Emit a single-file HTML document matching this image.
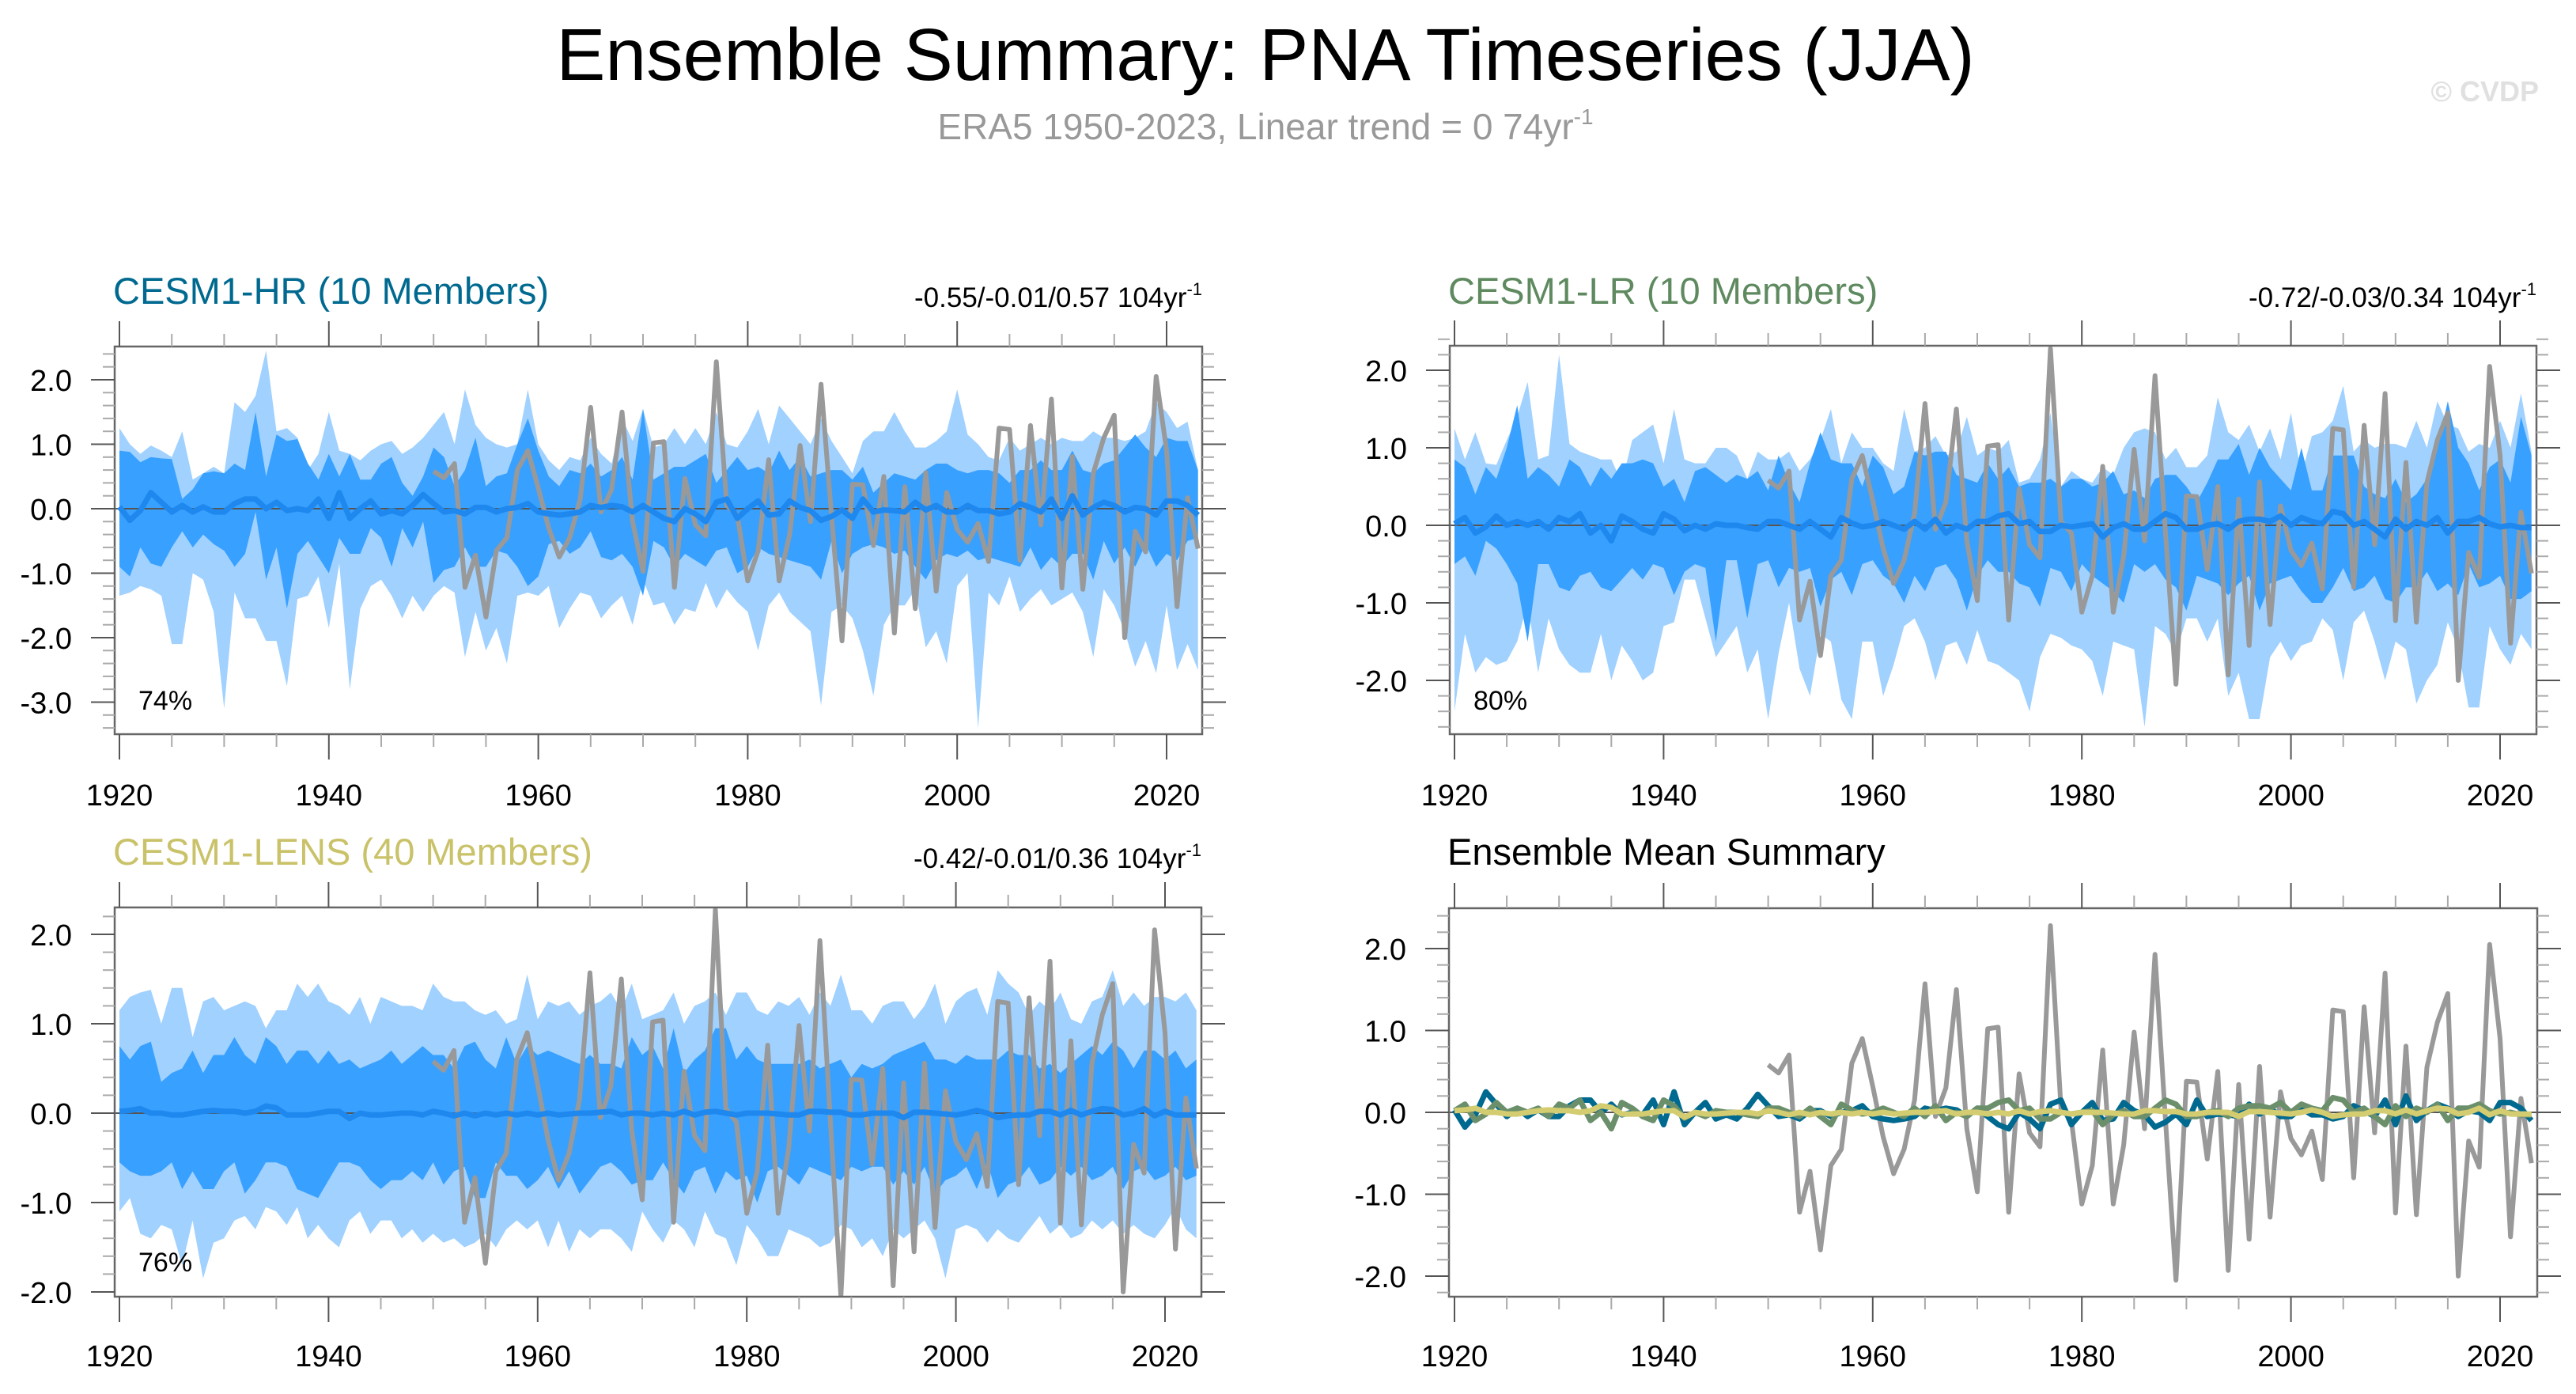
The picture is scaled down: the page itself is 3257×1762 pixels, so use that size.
<!DOCTYPE html>
<html><head><meta charset="utf-8"><style>
html,body{margin:0;padding:0;background:#fff;}
svg{display:block;font-family:"Liberation Sans",Arial,sans-serif;}
</style></head><body>
<svg id="chart" width="3257" height="1762" viewBox="0 0 3257 1762" xmlns="http://www.w3.org/2000/svg">
<rect x="0" y="0" width="3257" height="1762" fill="#fff"/>
<text x="1600" y="101" font-size="93" text-anchor="middle" fill="#000">Ensemble Summary: PNA Timeseries (JJA)</text>
<text x="1600" y="176" font-size="46" text-anchor="middle" fill="#999">ERA5 1950-2023, Linear trend = 0 74yr<tspan font-size="28" dy="-19">-1</tspan></text>
<text x="3210" y="128" font-size="36" font-weight="bold" text-anchor="end" fill="#e0e0e0">© CVDP</text>
</svg>
<script>
const obsYears0 = 1950;
const ERA5 = [0.58,0.48,0.70,-1.22,-0.72,-1.68,-0.65,-0.45,0.60,0.90,
0.32,-0.30,-0.75,-0.45,0.15,1.57,-0.05,0.30,1.50,-0.20,
-0.97,1.02,1.04,-1.22,0.47,-0.25,-0.42,2.28,0.05,-0.10,
-1.12,-0.65,0.76,-1.12,-0.40,0.98,-0.20,1.93,-0.10,-2.05,
0.38,0.37,-0.57,0.50,-1.93,0.34,-1.55,0.56,-1.28,0.25,
-0.32,-0.52,-0.23,-0.82,1.25,1.23,-0.80,1.29,-0.25,1.70,
-1.23,0.81,-1.25,0.55,1.10,1.45,-2.00,-0.35,-0.67,2.05,
0.90,-1.52,0.17,-0.62];
const modelYear0 = 1920;
const HR_hi = [1.25,1.0,0.85,0.98,0.9,0.8,1.2,0.45,0.55,0.65,
0.55,1.65,1.5,1.75,2.45,1.2,1.25,1.1,0.6,0.85,
1.5,0.9,0.85,0.75,0.9,1.0,1.05,0.85,0.95,1.1,
1.3,1.5,1.0,1.85,1.3,1.1,1.0,0.95,1.0,1.85,
1.0,0.75,0.6,0.8,0.75,1.1,0.85,0.7,1.4,1.05,
1.55,0.95,1.0,1.25,1.0,1.25,1.0,1.5,1.0,0.95,
1.2,1.55,1.0,1.6,1.4,1.2,1.0,1.4,1.05,0.8,
0.55,1.05,1.2,1.2,1.5,1.2,0.95,0.95,1.05,1.2,
1.85,1.15,1.0,0.8,0.75,1.1,0.9,1.0,1.1,1.0,
1.1,1.05,1.05,1.2,1.1,1.1,1.05,1.1,1.2,1.65,
1.5,1.25,1.35,0.6];
const HR_ihi = [0.9,0.88,0.72,0.8,0.78,0.77,0.15,0.3,0.55,0.58,
0.55,0.7,0.6,1.5,0.5,1.15,1.05,1.08,0.7,0.45,
0.85,0.5,0.85,0.45,0.45,0.7,0.8,0.4,0.2,0.5,
0.95,0.8,0.35,0.6,1.1,0.35,0.5,0.55,1.0,1.4,
0.9,0.5,0.35,0.6,0.55,0.7,0.5,0.6,0.8,0.45,
1.55,0.45,0.55,0.65,0.65,0.75,0.85,0.4,0.6,0.8,
0.6,0.65,0.55,0.9,0.6,0.8,0.5,0.55,0.6,0.6,
0.45,0.65,0.25,0.4,0.55,0.5,0.45,0.6,0.7,0.7,
0.6,0.55,0.6,0.6,0.55,0.4,0.6,0.6,0.75,0.6,
0.6,0.9,0.6,0.55,0.7,0.75,0.95,1.15,0.95,0.8,
1.1,1.05,1.05,0.6];
const HR_ilo = [-0.9,-1.05,-0.6,-0.85,-0.9,-0.6,-0.35,-0.6,-0.4,-0.55,
-0.65,-0.9,-0.7,-0.05,-1.1,-0.6,-1.55,-0.7,-0.5,-0.75,
-1.0,-0.45,-0.7,-0.7,-0.3,-0.45,-0.9,-0.3,-0.6,-0.2,
-1.15,-0.95,-0.9,-0.6,-0.9,-0.9,-0.65,-0.7,-0.9,-1.2,
-1.05,-0.55,-0.5,-0.7,-0.6,-0.35,-0.75,-0.8,-0.7,-0.9,
-1.35,-0.5,-0.6,-0.9,-0.7,-0.8,-0.9,-0.65,-0.6,-1.0,
-0.9,-0.6,-0.7,-0.75,-0.8,-0.85,-0.9,-1.1,-0.5,-1.0,
-0.7,-0.6,-0.55,-0.6,-0.7,-0.65,-0.9,-1.1,-0.8,-0.7,
-0.75,-0.65,-0.8,-0.75,-0.8,-0.85,-0.9,-0.6,-0.95,-0.75,
-0.9,-0.7,-0.7,-1.1,-0.5,-0.85,-0.6,-0.9,-0.55,-0.9,
-0.7,-0.8,-0.5,-0.45];
const HR_lo = [-1.35,-1.3,-1.2,-1.25,-1.35,-2.1,-2.1,-1.0,-1.1,-1.6,
-3.1,-1.3,-1.7,-1.7,-2.05,-2.05,-2.75,-1.4,-1.35,-1.05,
-1.85,-0.85,-2.8,-1.55,-1.2,-1.1,-1.35,-1.7,-1.35,-1.6,
-1.35,-1.2,-1.3,-2.3,-1.6,-2.2,-1.85,-2.4,-1.35,-1.3,
-1.35,-1.2,-1.85,-1.55,-1.3,-1.35,-1.7,-1.5,-1.35,-1.8,
-1.1,-1.5,-1.45,-1.8,-1.55,-1.6,-1.15,-1.55,-1.25,-1.45,
-1.6,-2.2,-1.5,-1.3,-1.6,-1.75,-1.9,-3.05,-1.6,-1.5,
-1.7,-2.2,-2.9,-1.8,-1.5,-1.5,-1.25,-2.15,-1.9,-2.4,
-1.2,-1.0,-3.4,-1.3,-1.5,-1.05,-1.6,-1.4,-1.25,-1.5,
-1.4,-1.3,-1.6,-2.3,-1.25,-1.5,-1.9,-2.45,-2.05,-2.55,
-1.5,-2.5,-2.1,-2.5];
const HR_mean = [0.03,-0.18,-0.03,0.25,0.1,-0.05,0.05,-0.05,0.03,-0.05,
-0.05,0.08,0.15,0.15,0.0,0.1,-0.03,0.0,-0.03,0.15,
-0.15,0.25,-0.15,0.0,0.12,-0.08,-0.03,-0.08,0.05,0.22,
0.08,-0.05,-0.03,-0.08,0.02,0.02,-0.05,0.0,0.02,0.08,
-0.05,-0.08,-0.1,-0.08,-0.05,0.05,0.02,0.05,0.03,-0.05,
0.05,-0.05,-0.15,-0.2,0.0,-0.08,-0.2,0.1,0.15,-0.15,
0.0,0.12,-0.1,-0.08,0.12,0.02,-0.03,-0.18,-0.12,-0.02,
-0.15,0.15,-0.05,-0.02,-0.03,-0.05,0.1,-0.02,0.05,-0.05,
-0.05,0.05,-0.03,-0.03,-0.08,-0.05,0.08,0.02,-0.05,0.15,
-0.15,0.2,-0.1,0.02,0.1,0.05,-0.05,0.02,0.0,-0.1,
0.12,0.12,0.05,-0.1];
const LR_hi = [1.25,0.85,1.2,0.8,0.78,1.1,1.4,1.85,0.85,0.9,
2.2,1.05,0.95,0.9,0.85,0.85,0.55,1.1,1.2,1.3,
0.8,1.5,0.85,0.8,0.8,1.0,1.0,0.9,0.6,0.95,
0.85,0.85,0.95,0.7,0.85,1.1,1.5,0.8,1.2,1.0,
1.0,0.8,0.7,1.5,0.95,1.0,1.15,0.9,0.95,1.4,
0.9,1.0,0.95,1.1,0.55,0.6,0.85,1.45,0.5,0.7,
0.6,0.55,0.75,0.65,1.0,1.2,1.25,1.2,0.85,1.0,
0.75,0.75,0.9,1.65,1.2,1.1,1.3,0.95,1.25,0.85,
1.45,0.65,1.15,1.2,1.35,1.8,0.95,1.1,1.0,1.05,
1.05,1.0,1.35,1.0,1.6,1.3,1.25,0.95,1.05,1.0,
1.35,1.0,1.7,0.95];
const LR_ihi = [0.85,0.75,0.4,0.75,0.6,1.0,1.55,0.6,0.75,0.65,
0.5,0.85,0.75,0.5,0.75,0.6,0.8,0.8,0.85,0.8,
0.5,0.6,0.3,0.7,0.75,0.65,0.55,0.65,0.6,0.7,
0.45,0.9,0.55,0.3,0.8,1.2,0.85,0.8,0.8,0.5,
0.9,0.75,0.4,0.5,0.95,0.9,0.95,0.95,0.65,0.6,
0.55,0.8,0.6,0.75,0.5,0.55,0.55,0.6,0.5,0.6,
0.6,0.5,0.55,0.7,0.4,0.45,0.35,0.6,0.65,0.65,
0.5,0.3,0.55,0.85,0.85,1.05,0.65,1.0,0.75,0.6,
0.45,1.0,0.45,0.45,0.9,0.9,0.9,0.5,0.4,0.35,
0.6,0.3,0.4,0.6,1.0,1.6,1.0,0.8,0.45,0.75,
0.85,0.55,1.4,0.9];
const LR_ilo = [-0.5,-0.4,-0.65,-0.2,-0.3,-0.5,-0.75,-1.5,-0.5,-0.5,
-0.8,-0.85,-0.65,-0.6,-0.8,-0.85,-0.7,-0.55,-0.7,-0.5,
-0.55,-0.9,-0.6,-0.5,-0.55,-1.5,-0.45,-0.45,-1.2,-0.5,
-0.45,-0.8,-0.55,-0.6,-0.55,-1.05,-0.7,-0.6,-0.9,-0.5,
-0.45,-0.65,-0.75,-1.0,-0.65,-0.85,-0.55,-0.5,-0.7,-1.1,
-0.65,-0.45,-0.6,-0.6,-0.75,-0.8,-1.05,-0.55,-0.6,-0.85,
-0.5,-0.65,-0.75,-0.85,-1.0,-0.5,-0.6,-0.5,-0.7,-0.8,
-1.1,-0.65,-0.7,-0.75,-0.9,-0.75,-0.65,-1.1,-0.75,-0.7,
-0.65,-0.85,-1.0,-1.0,-0.8,-0.55,-0.85,-0.8,-0.65,-0.95,
-1.0,-0.8,-0.8,-0.6,-0.85,-0.75,-0.9,-0.5,-0.8,-0.75,
-0.65,-0.95,-0.95,-0.85];
const LR_lo = [-2.4,-1.4,-1.9,-1.7,-1.8,-1.75,-1.5,-1.0,-1.9,-1.2,
-1.6,-1.8,-1.9,-1.9,-1.4,-2.0,-1.55,-1.75,-2.0,-1.9,
-1.3,-1.25,-0.7,-0.7,-1.2,-1.7,-1.5,-1.3,-1.9,-1.6,
-2.5,-1.65,-1.0,-1.85,-2.2,-1.4,-1.5,-2.25,-2.5,-1.5,
-1.5,-2.2,-1.8,-1.3,-1.2,-1.5,-2.0,-1.55,-1.5,-1.8,
-1.35,-1.75,-1.8,-1.9,-2.0,-2.4,-1.7,-1.4,-1.45,-1.55,
-1.6,-1.75,-2.2,-1.5,-1.55,-1.6,-2.6,-1.3,-1.4,-1.65,
-1.2,-1.2,-1.5,-1.2,-2.2,-1.9,-2.5,-2.5,-1.7,-1.5,
-1.75,-1.55,-1.5,-1.2,-1.35,-2.0,-1.25,-1.1,-1.5,-2.0,
-1.5,-1.6,-2.3,-2.0,-1.8,-1.25,-1.6,-2.35,-2.35,-1.3,
-1.6,-1.8,-1.4,-1.6];
const LR_mean = [0.02,0.1,-0.1,-0.02,0.12,0.0,0.05,0.0,0.05,-0.05,
0.1,0.05,0.15,-0.1,0.0,-0.2,0.12,0.05,-0.05,-0.1,
0.15,0.08,-0.07,0.0,-0.05,0.02,0.0,0.0,-0.03,-0.05,
0.05,0.05,0.0,-0.05,0.05,-0.05,-0.15,0.1,0.03,-0.02,
0.0,0.05,0.0,-0.05,0.05,-0.05,0.08,-0.1,0.0,-0.05,
0.05,0.05,0.12,0.15,0.02,0.05,-0.08,-0.08,0.0,-0.02,
0.0,0.02,-0.15,-0.03,0.02,-0.05,-0.05,0.05,0.15,0.1,
-0.05,-0.05,0.0,0.02,-0.05,0.05,0.08,0.08,0.05,0.12,
0.0,0.1,0.05,0.02,0.18,0.15,0.0,0.05,-0.05,-0.15,
0.08,-0.05,0.05,0.0,0.1,-0.1,0.05,0.05,0.1,0.02,
-0.02,0.0,-0.03,-0.03];
const LENS_hi = [1.15,1.3,1.35,1.38,1.0,1.4,1.4,0.85,1.25,1.3,
1.15,1.2,1.25,1.2,0.95,1.15,1.15,1.45,1.3,1.45,
1.25,1.2,1.1,1.3,1.0,1.3,1.25,1.2,1.2,1.15,
1.45,1.3,1.25,1.25,1.15,1.1,1.15,1.0,1.05,1.55,
1.05,1.25,1.2,1.25,1.1,1.2,1.25,1.35,1.15,1.45,
1.05,1.1,1.15,1.35,1.0,1.2,1.25,1.35,1.1,1.35,
1.35,1.15,1.1,1.25,1.2,1.3,1.1,1.35,1.2,1.55,
1.15,1.15,1.0,1.2,1.25,1.25,1.05,1.2,1.45,1.0,
1.25,1.35,1.4,1.1,1.6,1.45,1.35,1.1,1.25,1.15,
1.35,1.05,1.0,1.25,1.3,1.6,1.2,1.35,1.2,1.3,
1.3,1.25,1.35,1.15];
const LENS_ihi = [0.75,0.6,0.75,0.8,0.35,0.45,0.5,0.7,0.45,0.65,
0.65,0.85,0.65,0.55,0.85,0.75,0.55,0.7,0.7,0.55,
0.7,0.55,0.6,0.5,0.55,0.6,0.7,0.55,0.65,0.75,
0.65,0.65,0.5,0.75,0.8,0.6,0.5,0.85,0.55,0.75,
0.65,0.7,0.65,0.6,0.55,0.65,0.55,0.55,0.5,0.85,
0.65,0.75,0.5,0.95,0.45,0.6,0.7,0.95,0.95,0.6,
0.75,0.6,0.55,0.55,0.55,0.55,0.6,0.5,0.55,0.6,
0.4,0.55,0.5,0.55,0.65,0.7,0.75,0.8,0.6,0.6,
0.55,0.65,0.6,0.6,0.6,0.7,0.65,0.65,0.5,0.55,
0.45,0.55,0.65,0.75,0.65,0.8,0.7,0.5,0.7,0.7,
0.6,0.7,0.5,0.6];
const LENS_ilo = [-0.55,-0.65,-0.7,-0.7,-0.65,-0.55,-0.85,-0.65,-0.85,-0.85,
-0.65,-0.55,-0.9,-0.75,-0.55,-0.55,-0.6,-0.85,-0.9,-0.95,
-0.75,-0.55,-0.55,-0.6,-0.75,-0.85,-0.75,-0.75,-0.65,-0.75,
-0.55,-0.8,-0.65,-0.6,-0.95,-0.95,-0.55,-0.7,-0.7,-0.85,
-0.75,-0.6,-0.85,-0.65,-0.9,-0.75,-0.6,-0.55,-0.65,-0.8,
-0.75,-0.75,-0.55,-0.75,-0.9,-0.65,-0.6,-0.9,-0.65,-0.75,
-0.7,-1.0,-0.65,-0.6,-0.7,-0.8,-0.6,-0.65,-0.7,-0.75,
-0.6,-0.65,-0.6,-0.6,-0.8,-0.65,-0.8,-0.6,-0.9,-0.75,
-0.7,-0.6,-0.85,-0.55,-0.95,-0.8,-0.75,-0.6,-0.8,-0.75,
-0.6,-0.7,-0.6,-0.75,-0.7,-0.6,-0.85,-0.65,-0.6,-0.75,
-0.7,-0.6,-0.75,-0.7];
const LENS_lo = [-1.1,-0.95,-1.35,-1.4,-1.25,-1.3,-1.7,-1.2,-1.85,-1.45,
-1.4,-1.2,-1.15,-1.3,-1.05,-1.1,-1.25,-1.05,-1.4,-1.25,
-1.4,-1.5,-1.2,-1.1,-1.35,-1.2,-1.2,-1.4,-1.3,-1.45,
-1.35,-1.45,-1.4,-1.5,-1.45,-1.35,-1.5,-1.3,-1.2,-1.3,
-1.2,-1.5,-1.2,-1.55,-1.3,-1.4,-1.3,-1.3,-1.4,-1.55,
-1.1,-1.3,-1.45,-1.2,-1.3,-1.5,-1.1,-1.35,-1.4,-1.7,
-1.25,-1.4,-1.6,-1.6,-1.3,-1.35,-1.4,-1.5,-1.45,-1.25,
-1.3,-1.5,-1.4,-1.6,-1.3,-1.4,-1.3,-1.2,-1.4,-1.85,
-1.3,-1.25,-1.3,-1.45,-1.3,-1.4,-1.45,-1.3,-1.15,-1.35,
-1.25,-1.4,-1.35,-1.2,-1.3,-1.2,-1.35,-1.25,-1.35,-1.4,
-1.25,-1.05,-1.3,-1.4];
const LENS_mean = [0.02,0.03,0.05,0.0,0.0,-0.02,-0.02,0.0,0.02,0.03,
0.02,0.02,0.0,0.02,0.08,0.06,-0.02,-0.02,-0.02,0.0,
0.02,0.02,-0.06,0.0,-0.02,-0.02,-0.01,0.0,0.0,-0.02,
0.02,0.0,-0.03,0.0,-0.03,0.0,-0.02,0.0,-0.02,0.0,
-0.02,0.0,-0.02,-0.01,0.0,0.0,0.01,0.02,-0.02,0.0,
0.0,-0.02,0.0,-0.02,0.02,-0.02,0.01,0.02,0.0,-0.02,
0.0,0.0,0.0,-0.01,-0.02,-0.02,0.02,0.02,0.01,0.01,
-0.02,-0.02,0.0,0.0,0.0,-0.05,0.01,0.01,0.0,-0.01,
-0.02,0.0,0.03,0.0,-0.05,-0.03,-0.02,-0.02,0.02,0.02,
-0.02,0.03,-0.02,0.02,0.05,0.04,-0.02,0.0,0.05,-0.03,
0.02,-0.02,-0.02,-0.02];
const xTickYears = [1920,1940,1960,1980,2000,2020];

const NS = "http://www.w3.org/2000/svg";
const svg = document.getElementById('chart');
function mk(tag, attrs, parent) {
  const e = document.createElementNS(NS, tag);
  for (const k in attrs) e.setAttribute(k, attrs[k]);
  (parent || svg).appendChild(e);
  return e;
}
function fmt(v){ return v.toFixed(1); }

function panel(cfg) {
  const g = mk('g', {});
  
  
  const xs = yr => cfg.ax + (yr - 1920) * cfg.xs;
  const ys = v => cfg.y0 - v * cfg.yu;
  const clip = mk('clipPath', {id: 'clip-' + cfg.name}, g);
  mk('rect', {x: cfg.x0, y: cfg.yt, width: cfg.x1 - cfg.x0, height: cfg.yb - cfg.yt}, clip);
  const pg = mk('g', {'clip-path': 'url(#clip-' + cfg.name + ')'}, g);
  function band(hi, lo, color, nm) {
    let d = '';
    for (let i = 0; i < hi.length; i++) d += (i ? 'L' : 'M') + xs(modelYear0 + i).toFixed(1) + ',' + ys(hi[i]).toFixed(1);
    for (let i = lo.length - 1; i >= 0; i--) d += 'L' + xs(modelYear0 + i).toFixed(1) + ',' + ys(lo[i]).toFixed(1);
    const p = mk('path', {d: d + 'Z', fill: color}, pg);
    
    
  }
  function line(arr, y0, color, w, nm) {
    let d = '';
    for (let i = 0; i < arr.length; i++) d += (i ? 'L' : 'M') + xs(y0 + i).toFixed(1) + ',' + ys(arr[i]).toFixed(1);
    const p = mk('path', {d: d, fill: 'none', stroke: color, 'stroke-width': w, 'stroke-linejoin': 'round'}, pg);
    
    
  }
  if (cfg.bands) {
    band(cfg.bands[0], cfg.bands[3], '#a0d1ff', 'outer-spread-band');
    band(cfg.bands[1], cfg.bands[2], '#38a0ff', 'inner-spread-band');
  }
  const zl = mk('line', {x1: cfg.x0, x2: cfg.x1, y1: ys(0), y2: ys(0), stroke: '#555', 'stroke-width': 2}, pg);
  
  
  if (cfg.bands) {
    line(ERA5, obsYears0, '#999', 6, 'era5-observed-line');
    line(cfg.mean, modelYear0, '#1e88ee', 7, 'ensemble-mean-line');
  } else {
    line(ERA5, obsYears0, '#999', 6, 'era5-observed-line');
    line(HR_mean, modelYear0, '#00698f', 7, 'cesm1-hr-mean-line');
    line(LR_mean, modelYear0, '#6a8f6a', 7, 'cesm1-lr-mean-line');
    line(LENS_mean, modelYear0, '#d4cc70', 7, 'cesm1-lens-mean-line');
  }
  const box = mk('rect', {x: cfg.x0, y: cfg.yt, width: cfg.x1 - cfg.x0, height: cfg.yb - cfg.yt, fill: 'none', stroke: '#666', 'stroke-width': 2.5}, g);
  
  
  for (let yr = 1920; yr <= 2023; yr += 5) {
    const x = xs(yr), major = yr % 20 === 0;
    const L = major ? 32 : 16, c = major ? '#555' : '#aaa';
    mk('line', {x1: x, x2: x, y1: cfg.yt, y2: cfg.yt - L, stroke: c, 'stroke-width': 2}, g);
    mk('line', {x1: x, x2: x, y1: cfg.yb, y2: cfg.yb + L, stroke: c, 'stroke-width': 2}, g);
  }
  xTickYears.forEach(yr => {
    const t = mk('text', {x: xs(yr), y: cfg.labY, 'font-size': 38, 'text-anchor': 'middle', fill: '#000'}, g);
    
    
    t.textContent = yr;
  });
  for (let k = Math.ceil(cfg.vmin * 5); k <= Math.floor(cfg.vmax * 5); k++) {
    const v = k / 5, y = ys(v), major = k % 5 === 0;
    const L = major ? 30 : 15, c = major ? '#555' : '#aaa';
    mk('line', {x1: cfg.x0, x2: cfg.x0 - L, y1: y, y2: y, stroke: c, 'stroke-width': 2}, g);
    mk('line', {x1: cfg.x1, x2: cfg.x1 + L, y1: y, y2: y, stroke: c, 'stroke-width': 2}, g);
    if (major) {
      const t = mk('text', {x: cfg.x0 - 54, y: y + 14, 'font-size': 38, 'text-anchor': 'end', fill: '#000'}, g);
      
      
      t.textContent = fmt(v);
    }
  }
  const tt = mk('text', {x: cfg.x0 - 2, y: cfg.titleY, 'font-size': 47, fill: cfg.titleColor}, g);
  
  
  tt.textContent = cfg.title;
  if (cfg.stats) {
    const st = mk('text', {x: cfg.x1, y: cfg.titleY + 4, 'font-size': 35, 'text-anchor': 'end', fill: '#000'}, g);
    
    
    st.innerHTML = cfg.stats + ' 104yr<tspan font-size="22" dy="-15">-1</tspan>';
  }
  if (cfg.pct) {
    const pt = mk('text', {x: cfg.x0 + 30, y: cfg.pctY, 'font-size': 34, fill: '#000'}, g);
    
    
    pt.textContent = cfg.pct;
  }
}

panel({name: 'cesm1-hr-panel', x0: 145, x1: 1520, yt: 438, yb: 928, ax: 151, xs: 13.24, y0: 643, yu: 81.5, vmin: -3.5, vmax: 2.5,
  labY: 1018, titleY: 384, title: 'CESM1-HR (10 Members)', titleColor: '#00698f', stats: '-0.55/-0.01/0.57',
  pct: '74%', pctY: 897, bands: [HR_hi, HR_ihi, HR_ilo, HR_lo], mean: HR_mean});
panel({name: 'cesm1-lr-panel', x0: 1833, x1: 3207, yt: 437, yb: 928, ax: 1839, xs: 13.22, y0: 664, yu: 98, vmin: -2.7, vmax: 2.4,
  labY: 1018, titleY: 384, title: 'CESM1-LR (10 Members)', titleColor: '#5f8a60', stats: '-0.72/-0.03/0.34',
  pct: '80%', pctY: 897, bands: [LR_hi, LR_ihi, LR_ilo, LR_lo], mean: LR_mean});
panel({name: 'cesm1-lens-panel', x0: 145, x1: 1519, yt: 1147, yb: 1639, ax: 151, xs: 13.22, y0: 1407, yu: 113, vmin: -2.04, vmax: 2.3,
  labY: 1727, titleY: 1093, title: 'CESM1-LENS (40 Members)', titleColor: '#c9c269', stats: '-0.42/-0.01/0.36',
  pct: '76%', pctY: 1607, bands: [LENS_hi, LENS_ihi, LENS_ilo, LENS_lo], mean: LENS_mean});
panel({name: 'ensemble-mean-summary-panel', x0: 1832, x1: 3208, yt: 1148, yb: 1639, ax: 1839, xs: 13.22, y0: 1406, yu: 103.5, vmin: -2.25, vmax: 2.5,
  labY: 1727, titleY: 1093, title: 'Ensemble Mean Summary', titleColor: '#000', stats: null, pct: null, bands: null, mean: null});
</script>
</body></html>
